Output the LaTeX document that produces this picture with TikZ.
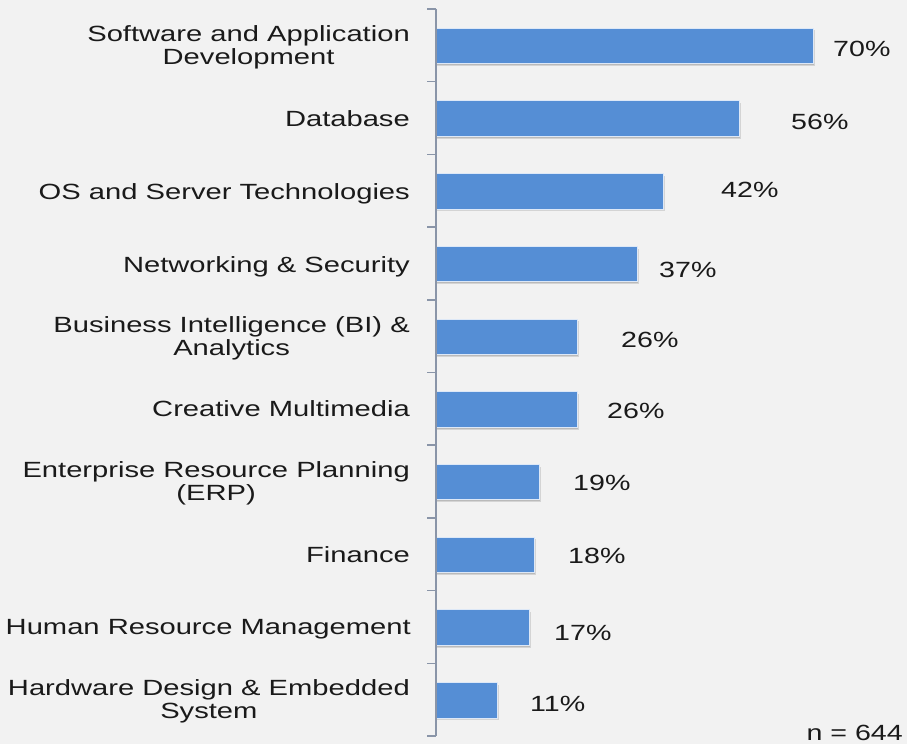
\documentclass[tikz,border=0pt]{standalone}
\usepackage{fontspec}
\setmainfont{Liberation Sans}[FakeStretch=1.3]
\newfontfamily\catfont{Liberation Sans}[FakeStretch=1.325]
\begin{document}
\definecolor{bg}{HTML}{F2F2F2}
\definecolor{barblue}{HTML}{558ED5}
\definecolor{axisgray}{HTML}{8A95A8}
\definecolor{txt}{HTML}{1A1A1A}
\begin{tikzpicture}[x=1bp,y=-1bp,
  cat/.style={anchor=base east, align=center, text=txt, inner sep=0pt,
    font=\catfont\fontsize{22bp}{23bp}\selectfont},
  pct/.style={anchor=base west, text=txt, inner sep=0pt,
    font=\fontsize{22bp}{23bp}\selectfont},
  barfill/.style={fill=barblue, draw=white!80!barblue, line width=0.6bp},
  barshadow/.style={fill=black, opacity=0.12},
  axisline/.style={draw=axisgray, line width=1.5bp}]
\fill[bg] (0,0) rectangle (907,744);
\useasboundingbox (0,0) rectangle (907,744);
% bars
\foreach \i/\e in {0/813,1/739,2/663,3/637,4/577,5/577,6/539,7/534,8/529,9/497}{
  \pgfmathsetmacro{\t}{28+72.7*\i}
  \fill[barshadow] (437,\t+2.5) rectangle (\e+1.5,\t+38);
  \fill[barshadow] (437,\t+2) rectangle (\e+0.8,\t+37);
  \path[barfill] (436,\t) rectangle (\e,\t+35.5);
}
% axis
\draw[axisline] (436,9) coordinate (atop) -- (436,736) coordinate (abot);
\foreach \i in {0,...,10}{
  \draw[axisline] (427,9+72.7*\i) -- (436,9+72.7*\i);
}
% category labels
\node[cat] (c1) at (410,65) {Software and Application\\Development};
\node[cat] (c2) at (410,126) {Database};
\node[cat] (c3) at (410,199) {OS and Server Technologies};
\node[cat] (c4) at (410,272) {Networking \& Security};
\node[cat] (c5) at (410,355) {Business Intelligence (BI) \&\\Analytics};
\node[cat] (c6) at (410,416) {Creative Multimedia};
\node[cat] (c7) at (410,500) {Enterprise Resource Planning\\(ERP)};
\node[cat] (c8) at (410,562) {Finance};
\node[cat] (c9) at (411,634) {Human Resource Management};
\node[cat] (c10) at (410,718) {Hardware Design \& Embedded\\System};
% value labels
\node[pct] (v1) at (833,57) {70\%};
\node[pct] (v2) at (791,129) {56\%};
\node[pct] (v3) at (721,197) {42\%};
\node[pct] (v4) at (659,277) {37\%};
\node[pct] (v5) at (621,347) {26\%};
\node[pct] (v6) at (607,418) {26\%};
\node[pct] (v7) at (573,490) {19\%};
\node[pct] (v8) at (568,563) {18\%};
\node[pct] (v9) at (554,640) {17\%};
\node[pct] (v10) at (530,711) {11\%};
\node[pct, anchor=base east] (n) at (903,740) {n = 644};
\end{tikzpicture}
\end{document}
